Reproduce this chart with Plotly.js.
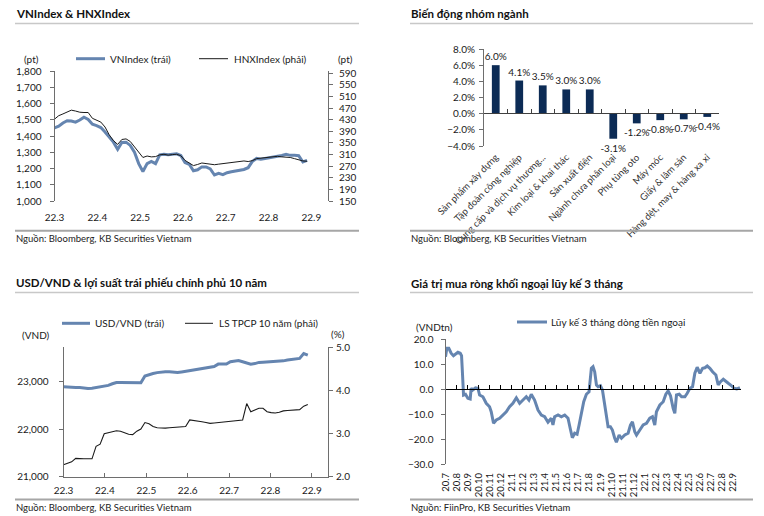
<!DOCTYPE html>
<html><head><meta charset="utf-8">
<script src="https://cdn.plot.ly/plotly-3.0.1.min.js"></script>
<style>html,body{margin:0;padding:0;background:#fff;}</style>
</head><body><div id="chart" style="width:764px;height:516px;"></div>
<script>
// ---------- Panel 1: VNIndex & HNXIndex (samples every 3 days from 2022-03-01) ----------
const p1Ticks = ['22.3','22.4','22.5','22.6','22.7','22.8','22.9'];
const p1StepDays = 3;
const vnIndex = [1450,1460,1480,1494,1492,1485,1498,1516,1502,1472,
 1464,1452,1425,1390,1362,1318,1360,1362,1342,1300,
 1230,1182,1230,1244,1230,1284,1288,1284,1286,1290,
 1280,1236,1226,1186,1192,1210,1210,1198,1160,1170,
 1162,1174,1180,1184,1188,1194,1205,1244,1262,1257,
 1262,1266,1273,1274,1280,1287,1281,1282,1279,1240,1250];
const hnxIndex = [432,444,450,457,463,460,456,455,455,435,
 429,422,405,378,358,345,362,364,355,338,
 320,300,305,302,303,309,311,308,310,311,
 306,290,281,272,276,281,279,278,275,277,
 279,282,284,285,287,288,286,289,296,298,
 300,302,304,304,302,302,300,296,291,288,287];

// ---------- Panel 2: sector performance ----------
const sectors = ['Sản phẩm xây dựng','Tập đoàn công nghiệp','Cung cấp và dịch vụ thương...',
 'Kim loại & khai thác','Sản xuất điện','Ngành chưa phân loại','Phụ tùng oto','Máy móc',
 'Giấy & lâm sản','Hàng dệt, may & hàng xa xỉ'];
const sectorChange = [6.0,4.1,3.5,3.0,3.0,-3.1,-1.2,-0.8,-0.7,-0.4];

// ---------- Panel 3: USD/VND & 10Y bond yield (samples every 3 days from 2022-03-01) ----------
const p3Ticks = ['22.3','22.4','22.5','22.6','22.7','22.8','22.9'];
const usdVnd = [22890,22880,22876,22876,22876,22866,22855,22862,22876,22890,
 22904,22920,22955,22981,22981,22981,22980,22978,22976,22974,
 23120,23150,23171,23190,23206,23206,23206,23200,23192,23205,
 23218,23230,23243,23258,23272,23285,23300,23320,23370,23375,
 23370,23420,23440,23445,23420,23390,23368,23380,23405,23410,
 23417,23417,23417,23425,23438,23455,23466,23466,23490,23590,23557];
const bond10y = [2.27,2.31,2.34,2.42,2.41,2.41,2.41,2.41,2.70,2.75,
 2.99,3.01,3.04,3.06,3.05,3.02,2.98,2.97,3.05,3.10,
 3.25,3.22,3.16,3.13,3.12,3.12,3.13,3.14,3.14,3.15,
 3.16,3.31,3.30,3.29,3.27,3.25,3.23,3.24,3.25,3.26,
 3.27,3.28,3.29,3.30,3.31,3.69,3.50,3.54,3.58,3.58,
 3.50,3.48,3.47,3.49,3.52,3.53,3.54,3.54,3.55,3.63,3.67];

// ---------- Panel 4: 3-month cumulative foreign net buying (months since 2020-07) ----------
const p4Ticks = ['20.7','20.8','20.9','20.10','20.11','20.12','21.1','21.2','21.3','21.4','21.5',
 '21.6','21.7','21.8','21.9','21.10','21.11','21.12','22.1','22.2','22.3','22.4','22.5','22.6',
 '22.7','22.8','22.9'];
const flowMonth = [0.00,0.12,0.30,0.51,0.72,0.97,1.12,1.33,1.45,1.51,1.57,1.63,1.81,2.02,2.23,2.32,
 2.47,2.71,2.93,3.08,3.38,3.68,3.98,4.13,4.34,4.59,4.89,5.19,5.49,5.79,6.09,6.40,6.70,7.00,7.30,
 7.54,7.75,8.05,8.36,8.66,8.96,9.26,9.56,9.71,9.86,10.17,10.47,10.77,11.07,11.28,11.46,11.67,
 11.89,12.07,12.28,12.49,12.73,12.97,13.18,13.33,13.48,13.64,13.79,14.00,14.18,14.30,14.48,
 14.69,14.90,15.08,15.29,15.44,15.69,15.90,16.20,16.50,16.71,16.89,17.10,17.26,17.56,17.86,
 18.16,18.46,18.70,18.91,19.06,19.37,19.67,19.91,20.12,20.33,20.57,20.72,20.87,21.12,21.33,
 21.63,21.84,22.08,22.32,22.53,22.74,22.99,23.23,23.44,23.65,23.89,24.13,24.43,24.64,24.85,
 25.10,25.34,25.55,25.85,26.06,26.31,26.61];
const flowValue = [12.9,16.3,16.3,14.3,13.3,14.0,14.7,14.3,13.3,8.3,1.6,-2.4,-2.1,-3.7,-4.0,0.3,
 -0.4,0.5,0.3,-2.4,-3.1,-5.7,-7.1,-9.1,-13.7,-12.4,-11.7,-10.4,-9.1,-7.1,-5.7,-3.5,-5.7,-4.4,-3.1,
 -4.4,-2.1,-4.4,-8.4,-10.4,-11.1,-13.3,-11.7,-14.4,-11.1,-10.4,-11.1,-10.4,-11.7,-16.0,-19.5,-17.7,
 -18.1,-14.4,-9.1,-5.1,-2.1,-1.1,8.3,8.9,6.9,1.6,0.9,1.3,-0.4,-3.7,-9.1,
 -15.1,-15.1,-16.4,-19.7,-21.3,-18.4,-19.7,-18.4,-17.7,-14.4,-13.1,-17.1,-18.4,-16.4,-14.4,
 -13.7,-11.7,-11.1,-14.4,-9.1,-6.4,-5.1,-2.1,-0.8,-2.7,-7.7,-9.7,-2.4,-2.1,-3.1,
 -3.1,-1.7,0.3,0.9,6.3,8.7,6.3,8.3,8.5,9.2,8.3,6.9,5.6,1.6,2.9,
 3.9,2.9,2.3,1.3,0.3,0.0,0.5];

// ---------- helpers ----------
const W = 764, H = 516;
const px = x => x / W, py = y => 1 - y / H;
const FONT = 'Lato, "Open Sans", sans-serif';
const TXT = '#1a1a1a';
const BLUE = '#6585b0';
const AX = '#6e6e6e';
const tickFont = {family: FONT, size: 10, color: TXT};
const idx = n => Array.from({length: n}, (_, i) => i);
const months1 = vnIndex.map((_, i) => i * p1StepDays / 30.5);
const months3 = usdVnd.map((_, i) => i * p1StepDays / 30.5);

const traces = [
  {type:'scatter', mode:'lines', x: months1, y: vnIndex, xaxis:'x', yaxis:'y',
   line:{color:BLUE, width:3}, hoverinfo:'skip'},
  {type:'scatter', mode:'lines', x: months1, y: hnxIndex, xaxis:'x', yaxis:'y2',
   line:{color:'#1a1a1a', width:1}, hoverinfo:'skip'},
  {type:'bar', x: sectors, y: sectorChange, xaxis:'x2', yaxis:'y3', width:0.33,
   marker:{color:'#0c2b55'}, text: sectorChange.map(v => v.toFixed(1) + '%'),
   textposition:'outside', constraintext:'none', cliponaxis:false,
   textfont:{family:FONT, size:10, color:TXT}, hoverinfo:'skip'},
  {type:'scatter', mode:'lines', x: [], y: [], xaxis:'x3', yaxis:'y3', hoverinfo:'skip'},
  {type:'scatter', mode:'lines', x: months3, y: usdVnd, xaxis:'x4', yaxis:'y4',
   line:{color:BLUE, width:3}, hoverinfo:'skip'},
  {type:'scatter', mode:'lines', x: months3, y: bond10y, xaxis:'x4', yaxis:'y5',
   line:{color:'#1a1a1a', width:1.1}, hoverinfo:'skip'},
  {type:'scatter', mode:'lines', x: [], y: [], xaxis:'x6', yaxis:'y6', hoverinfo:'skip'},
  {type:'scatter', mode:'lines', x: flowMonth, y: flowValue, xaxis:'x5', yaxis:'y6',
   line:{color:BLUE, width:3}, hoverinfo:'skip'}
];

const base = {showgrid:false, zeroline:false, fixedrange:true, tickfont:tickFont};
const yBase = Object.assign({}, base, {showline:true, linecolor:AX, linewidth:1,
  ticks:'outside', ticklen:4, tickcolor:AX, tickwidth:1});

function hline(x0, x1, y, color, width) {
  return {type:'line', xref:'paper', yref:'paper', x0:px(x0), x1:px(x1), y0:py(y), y1:py(y),
          line:{color:color, width:width}};
}
function txt(x, y, text, opt) {
  return Object.assign({xref:'paper', yref:'paper', x:px(x), y:py(y), text:text, showarrow:false,
    xanchor:'left', yanchor:'middle', font:{family:FONT, size:10, color:TXT}, borderpad:0}, opt || {});
}
const titleFont = {family:FONT, size:11.5, color:'#111', weight:700};
const srcFont = {family:FONT, size:9.5, color:'#222'};

const layout = {
  width: W, height: H, margin:{l:0, r:0, t:0, b:0}, paper_bgcolor:'#fff', plot_bgcolor:'rgba(0,0,0,0)',
  showlegend:false, font:{family:FONT, color:TXT},
  // panel 1
  xaxis: Object.assign({}, base, {domain:[px(54.5), px(328)], anchor:'y', range:[0, 6.39],
    tickmode:'array', tickvals: idx(p1Ticks.length), ticktext: p1Ticks, showline:false, ticks:'',
    ticklabelstandoff: 9}),
  yaxis: Object.assign({}, yBase, {domain:[py(201), py(71)], anchor:'x', range:[1000, 1800],
    dtick:100, tick0:1000, tickformat:',', ticklabelstandoff:6}),
  yaxis2: Object.assign({}, yBase, {overlaying:'y', side:'right', anchor:'x', range:[150, 598],
    tick0:150, dtick:40, ticklabelstandoff:4}),
  // panel 2
  xaxis2: Object.assign({}, base, {domain:[px(484), px(719)], anchor:'y3', type:'category',
    range:[-0.5, 9.5], tickangle:-45, ticks:'', showline:false,
    tickfont:{family:FONT, size:9.5, color:'#333'}, ticklabelstandoff:3}),
  yaxis3: Object.assign({}, yBase, {domain:[py(146), py(49)], anchor:'x2', range:[-4, 8],
    dtick:2, tick0:0, tickformat:'.1f', ticksuffix:'%', ticklabelstandoff:2}),
  xaxis3: Object.assign({}, base, {overlaying:'x2', anchor:'free', position:py(113),
    range:[-0.5, 9.5], tickmode:'linear', tick0:-0.5, dtick:1, ticks:'inside', ticklen:4,
    tickcolor:'#404040', showline:true, linecolor:'#404040', linewidth:1.2, showticklabels:false}),
  // panel 3
  xaxis4: Object.assign({}, base, {domain:[px(63.5), px(328)], anchor:'y4', range:[0, 6.39],
    tickmode:'array', tickvals: idx(p3Ticks.length), ticktext: p3Ticks, showline:true,
    linecolor:AX, ticks:'inside', ticklen:4, tickcolor:AX, ticklabelstandoff:4}),
  yaxis4: Object.assign({}, yBase, {domain:[py(476.5), py(347)], anchor:'x4', range:[21000, 23730],
    tick0:21000, dtick:1000, tickformat:',', ticklabelstandoff:8}),
  yaxis5: Object.assign({}, yBase, {overlaying:'y4', side:'right', anchor:'x4', range:[2, 5],
    tick0:2, dtick:1, tickformat:'.1f', ticklabelstandoff:1}),
  // panel 4
  xaxis5: Object.assign({}, base, {domain:[px(445.5), px(741)], anchor:'y6', range:[0, 26.7],
    tickmode:'array', tickvals: idx(p4Ticks.length), ticktext: p4Ticks, tickangle:-90, ticks:'',
    showline:false, tickfont:{family:FONT, size:9.5, color:TXT}, ticklabelstandoff:6}),
  yaxis6: Object.assign({}, yBase, {domain:[py(464), py(339)], anchor:'x5', range:[-30, 20],
    tick0:-30, dtick:10, tickformat:'.1f', ticklabelstandoff:5}),
  xaxis6: Object.assign({}, base, {overlaying:'x5', anchor:'free', position:py(389),
    range:[0, 26.7], tickmode:'linear', tick0:0, dtick:1, ticks:'inside', ticklen:4,
    tickcolor:'#000', showline:true, linecolor:'#000', linewidth:1.3, showticklabels:false}),
  shapes: [
    hline(15, 359, 23.5, '#c8c8c8', 1.5), hline(410, 753, 23.5, '#c8c8c8', 1.5),
    hline(15, 359, 230.7, '#a6a6a6', 2), hline(410, 753, 230.7, '#a6a6a6', 2),
    hline(15, 359, 292.5, '#c8c8c8', 1.5), hline(410, 753, 292.5, '#c8c8c8', 1.5),
    hline(15, 359, 499.5, '#a6a6a6', 2), hline(410, 753, 499.5, '#a6a6a6', 2),
    hline(76, 105, 58.7, BLUE, 3), hline(199, 228, 58.7, '#1a1a1a', 1),
    hline(62, 90, 323.3, BLUE, 3), hline(185, 213, 323.3, '#1a1a1a', 1),
    hline(517, 547, 322, BLUE, 3)
  ],
  annotations: [
    txt(15, 13, 'VNIndex & HNXIndex', {font:titleFont}),
    txt(410, 13, 'Biến động nhóm ngành', {font:titleFont}),
    txt(15, 282, 'USD/VND & lợi suất trái phiếu chính phủ 10 năm', {font:titleFont}),
    txt(410, 283, 'Giá trị mua ròng khối ngoại lũy kế 3 tháng', {font:titleFont}),
    txt(15, 239, 'Nguồn: Bloomberg, KB Securities Vietnam', {font:srcFont}),
    txt(410, 239, 'Nguồn: Bloomberg, KB Securities Vietnam', {font:srcFont}),
    txt(15, 507, 'Nguồn: Bloomberg, KB Securities Vietnam', {font:srcFont}),
    txt(410, 507, 'Nguồn: FiinPro, KB Securities Vietnam', {font:srcFont}),
    txt(109, 58.7, 'VNIndex (trái)'),
    txt(233, 58.7, 'HNXIndex (phải)'),
    txt(94, 323.3, 'USD/VND (trái)'),
    txt(218, 323.3, 'LS TPCP 10 năm (phải)'),
    txt(550, 322, 'Lũy kế 3 tháng dòng tiền ngoại'),
    txt(31, 59, '(pt)', {xanchor:'center'}),
    txt(345.5, 59, '(pt)', {xanchor:'center'}),
    txt(36, 335, '(VND)', {xanchor:'center'}),
    txt(337.5, 334, '(%)', {xanchor:'center'}),
    txt(435, 327, '(VNDtn)', {xanchor:'center'})
  ]
};

Plotly.newPlot('chart', traces, layout, {staticPlot:true, displayModeBar:false});
</script>
</body></html>
